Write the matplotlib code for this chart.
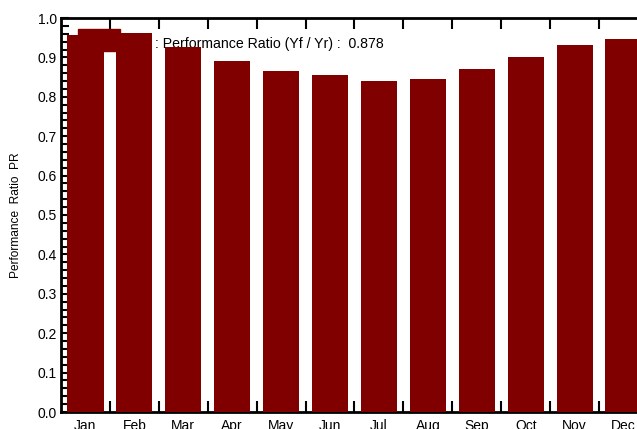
import matplotlib
matplotlib.use("Agg")
import matplotlib.pyplot as plt
from matplotlib.ticker import MultipleLocator, FixedLocator
import numpy as np

months = ["Jan", "Feb", "Mar", "Apr", "May", "Jun", "Jul", "Aug", "Sep", "Oct", "Nov", "Dec"]
pr_values = [0.957, 0.962, 0.926, 0.891, 0.865, 0.855, 0.840, 0.845, 0.870, 0.901, 0.931, 0.947]
annual_pr = 0.878
legend_label = ": Performance Ratio (Yf / Yr) :  0.878"
y_label = "Performance  Ratio  PR"

plt.rcParams['font.family'] = ['Liberation Sans', 'DejaVu Sans']

W, H = 637, 429
fig = plt.figure(figsize=(W / 100, H / 100), dpi=100)
ax_left = 61 / W
ax_bottom = (H - 412) / H
ax_height = 394 / H
ax_width = 587 / W
ax = fig.add_axes([ax_left, ax_bottom, ax_width, ax_height])

color = "#800000"
x = np.arange(len(months))
ax.bar(x, pr_values, width=0.74, color=color, zorder=3)

ax.set_xlim(-0.5, 11.5)
ax.set_ylim(0, 1.0)

# legend patch and text
ax.add_patch(plt.Rectangle((-0.16, 0.916), 0.86, 0.056, color=color, zorder=4,
                           transform=ax.transData))
ax.text(1.43, 0.935, legend_label, fontsize=10.2, va="center", ha="left", zorder=2)

# ticks
ax.yaxis.set_major_locator(MultipleLocator(0.1))
ax.yaxis.set_minor_locator(MultipleLocator(0.02))
ax.yaxis.set_major_formatter(matplotlib.ticker.FormatStrFormatter("%.1f"))
ax.tick_params(axis="y", which="both", direction="in", length=6, width=1.5, labelsize=10, pad=3)
ax.set_xticks(x)
ax.set_xticklabels(months)
ax.tick_params(axis="x", which="major", length=0, labelsize=10, pad=5)
ax.xaxis.set_minor_locator(FixedLocator(np.arange(0.5, 11.5, 1.0)))
ax.tick_params(axis="x", which="minor", direction="in", length=8, width=1.5, top=True, bottom=True)

for s in ["left", "bottom", "top"]:
    ax.spines[s].set_linewidth(2)
ax.spines["right"].set_visible(False)

ax.set_ylabel(y_label, fontsize=8.6, labelpad=11)

fig.savefig("out.png", dpi=100)
